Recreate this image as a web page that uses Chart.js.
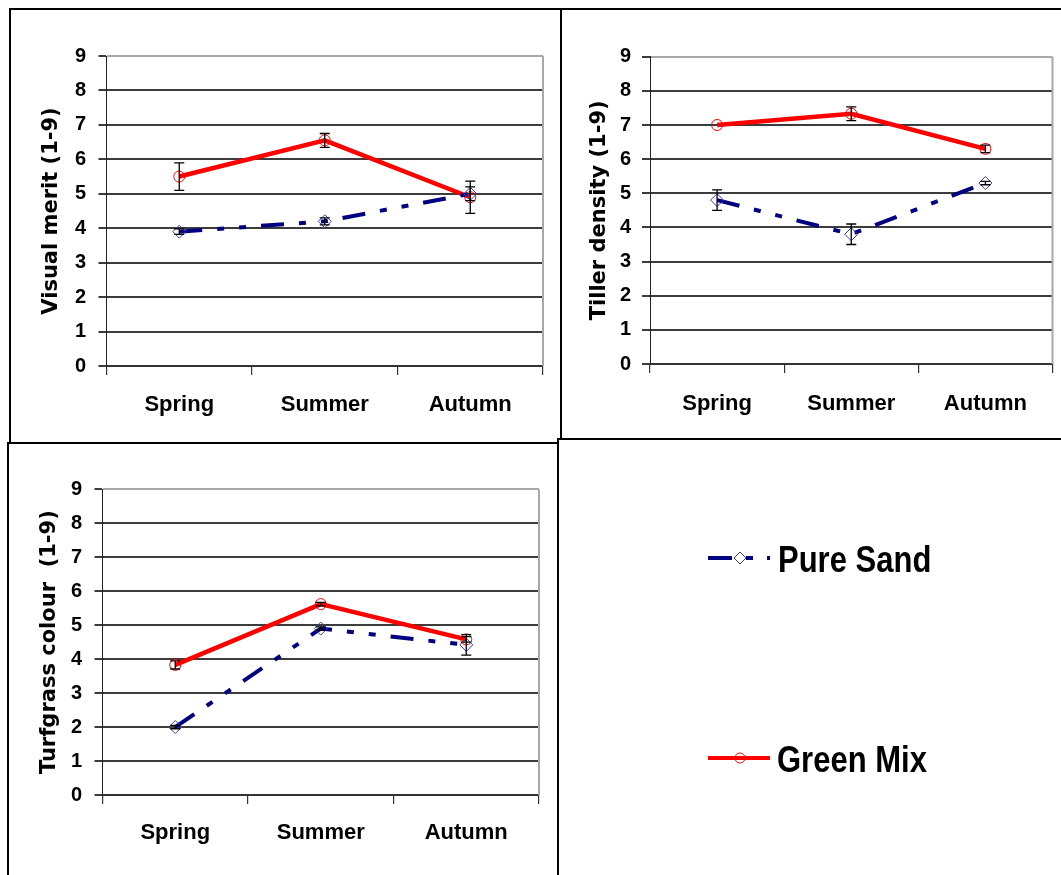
<!DOCTYPE html>
<html><head><meta charset="utf-8">
<script src="https://cdn.jsdelivr.net/npm/chart.js@4.4.1/dist/chart.umd.min.js"></script>
<style>
html,body{margin:0;padding:0;background:#fff;}
#page{position:relative;width:1061px;height:875px;overflow:hidden;background:#fff;}
.ln{position:absolute;background:#000;}
.cv{position:absolute;}
.leg{position:absolute;font-family:"Liberation Sans",Arial,sans-serif;font-weight:bold;font-size:31px;color:#000;line-height:31px;white-space:nowrap;transform:scaleY(1.22);transform-origin:0 26.3px;}
</style></head>
<body><div id="page">
<div class="ln" style="left:9px;top:8px;width:1052px;height:2px"></div>
<div class="ln" style="left:9px;top:8px;width:2px;height:436px"></div>
<div class="ln" style="left:560px;top:8px;width:2px;height:432px"></div>
<div class="ln" style="left:557px;top:438px;width:504px;height:2px"></div>
<div class="ln" style="left:7px;top:442px;width:552px;height:2px"></div>
<div class="ln" style="left:7px;top:442px;width:2px;height:433px"></div>
<div class="ln" style="left:557px;top:438px;width:2px;height:437px"></div>

<canvas id="c1" class="cv" style="left:12px;top:11px" width="546" height="430"></canvas>
<canvas id="c2" class="cv" style="left:563px;top:11px" width="497" height="426"></canvas>
<canvas id="c3" class="cv" style="left:10px;top:445px" width="546" height="430"></canvas>

<svg style="position:absolute;left:0;top:0" width="1061" height="875">
  <line x1="708" y1="558" x2="732" y2="558" stroke="#000080" stroke-width="4"/>
  <polygon points="740,552 746,558 740,564 734,558" fill="#fff" stroke="#3c3cb4" stroke-width="1"/>
  <line x1="746" y1="558" x2="753" y2="558" stroke="#000080" stroke-width="4"/>
  <line x1="767" y1="558" x2="770" y2="558" stroke="#000080" stroke-width="4"/>
  <line x1="708" y1="758" x2="770" y2="758" stroke="#ff0000" stroke-width="4"/>
  <circle cx="740" cy="758" r="5" fill="none" stroke="#ff0000" stroke-width="1"/>
</svg>
<div class="leg" style="left:778px;top:545.7px">Pure Sand</div>
<div class="leg" style="left:777px;top:745.7px">Green Mix</div>
</div>
<script>
// ---- data ----
const seasons = ['Spring', 'Summer', 'Autumn'];
const seriesNames = ['Pure Sand', 'Green Mix'];

const visualPureSand = [3.9, 4.2, 5.0];
const visualPureSandErr = [0.08, 0.1, 0.2];
const visualGreenMix = [5.5, 6.55, 4.9];
const visualGreenMixErr = [0.4, 0.2, 0.47];

const tillerPureSand = [4.8, 3.8, 5.3];
const tillerPureSandErr = [0.3, 0.3, 0.05];
const tillerGreenMix = [7.0, 7.33, 6.3];
const tillerGreenMixErr = [0, 0.2, 0.11];

const colourPureSand = [2.0, 4.9, 4.42];
const colourPureSandErr = [0.05, 0.05, 0.3];
const colourGreenMix = [3.83, 5.62, 4.58];
const colourGreenMixErr = [0.12, 0.05, 0.08];

const yMin = 0, yMax = 9, yStep = 1;

const labelFont = '"Liberation Sans",Arial,sans-serif';

const plotFrame = {
  id: 'plotFrame',
  beforeDatasetsDraw(chart) {
    const {ctx, chartArea: a} = chart;
    ctx.save();
    ctx.strokeStyle = '#a8a8a8';
    ctx.lineWidth = 2;
    ctx.beginPath();
    ctx.moveTo(a.right, a.top);
    ctx.lineTo(a.right, a.bottom);
    ctx.stroke();
    ctx.restore();
  }
};

const errorBars = {
  id: 'errorBars',
  afterDatasetsDraw(chart) {
    const {ctx} = chart;
    const ys = chart.scales.y;
    ctx.save();
    ctx.strokeStyle = '#000';
    ctx.lineWidth = 1.3;
    chart.data.datasets.forEach((ds, di) => {
      const meta = chart.getDatasetMeta(di);
      (ds.errors || []).forEach((e, i) => {
        if (!e) return;
        const pt = meta.data[i];
        const x = pt.x;
        const yt = ys.getPixelForValue(ds.data[i] + e);
        const yb = ys.getPixelForValue(ds.data[i] - e);
        ctx.beginPath();
        ctx.moveTo(x, yt); ctx.lineTo(x, yb);
        ctx.moveTo(x - 5, yt); ctx.lineTo(x + 5, yt);
        ctx.moveTo(x - 5, yb); ctx.lineTo(x + 5, yb);
        ctx.stroke();
      });
    });
    ctx.restore();
  }
};

function makeChart(id, cfg) {
  new Chart(document.getElementById(id), {
    type: 'line',
    data: {
      labels: seasons,
      datasets: [
        {
          label: seriesNames[0], data: cfg.ps, errors: cfg.psErr,
          borderColor: '#000080', borderWidth: 4, borderDash: [23, 15, 7, 15, 7, 15],
          pointStyle: 'rectRot', pointRadius: 6.5, pointBorderWidth: 1,
          pointBorderColor: '#3c3cb4', pointBackgroundColor: 'rgba(0,0,0,0)',
          tension: 0, fill: false
        },
        {
          label: seriesNames[1], data: cfg.gm, errors: cfg.gmErr,
          borderColor: '#ff0000', borderWidth: 4.5,
          pointStyle: 'circle', pointRadius: 5.5, pointBorderWidth: 1,
          pointBorderColor: '#ff0000', pointBackgroundColor: 'rgba(0,0,0,0)',
          tension: 0, fill: false
        }
      ]
    },
    options: {
      responsive: false, animation: false, devicePixelRatio: 1,
      layout: {padding: cfg.pad},
      plugins: {legend: {display: false}, tooltip: {enabled: false}},
      scales: {
        x: {
          type: 'category', offset: true,
          grid: {offset: true, drawOnChartArea: false, drawTicks: true, tickLength: 9,
                 color: '#333', tickColor: '#333', lineWidth: 1.2},
          border: {display: true, color: '#333', width: 2},
          ticks: {font: {family: labelFont, weight: 'bold', size: 22}, color: '#000',
                  padding: cfg.xPad, maxRotation: 0, autoSkip: false},
          afterFit(s) { s.height = cfg.xH; }
        },
        y: {
          min: yMin, max: yMax,
          ticks: {stepSize: yStep, font: {family: labelFont, weight: 'bold', size: 20}, color: '#000', padding: cfg.yPad},
          grid: {color: c => (c.tick && c.tick.value === yMax) ? '#a8a8a8' : '#3c3c3c',
                 lineWidth: 2, tickLength: 8, tickColor: '#3c3c3c'},
          border: {display: true, color: '#222', width: 1},
          title: {display: true, text: cfg.title, color: '#000',
                  font: {family: '"DejaVu Sans"', weight: 'bold', size: 21},
                  padding: {top: cfg.tPad, bottom: 0}},
          afterFit(s) { s.width = cfg.yW; }
        }
      }
    },
    plugins: [plotFrame, errorBars]
  });
}

makeChart('c1', {
  title: 'Visual merit (1-9)', ps: visualPureSand, psErr: visualPureSandErr,
  gm: visualGreenMix, gmErr: visualGreenMixErr,
  pad: {left: 0, top: 45, right: 15, bottom: 0}, yW: 94.5, xH: 75,
  tPad: 27.4, yPad: 12.5, xPad: 17
});
makeChart('c2', {
  title: 'Tiller density (1-9)', ps: tillerPureSand, psErr: tillerPureSandErr,
  gm: tillerGreenMix, gmErr: tillerGreenMixErr,
  pad: {left: 0, top: 45.7, right: 6.5, bottom: 0}, yW: 87, xH: 73,
  tPad: 24.4, yPad: 11, xPad: 18
});
makeChart('c3', {
  title: 'Turfgrass colour  (1-9)', ps: colourPureSand, psErr: colourPureSandErr,
  gm: colourGreenMix, gmErr: colourGreenMixErr,
  pad: {left: 0, top: 44.3, right: 17, bottom: 0}, yW: 92.5, xH: 80,
  tPad: 27.4, yPad: 12.5, xPad: 16
});
</script>
</body></html>
